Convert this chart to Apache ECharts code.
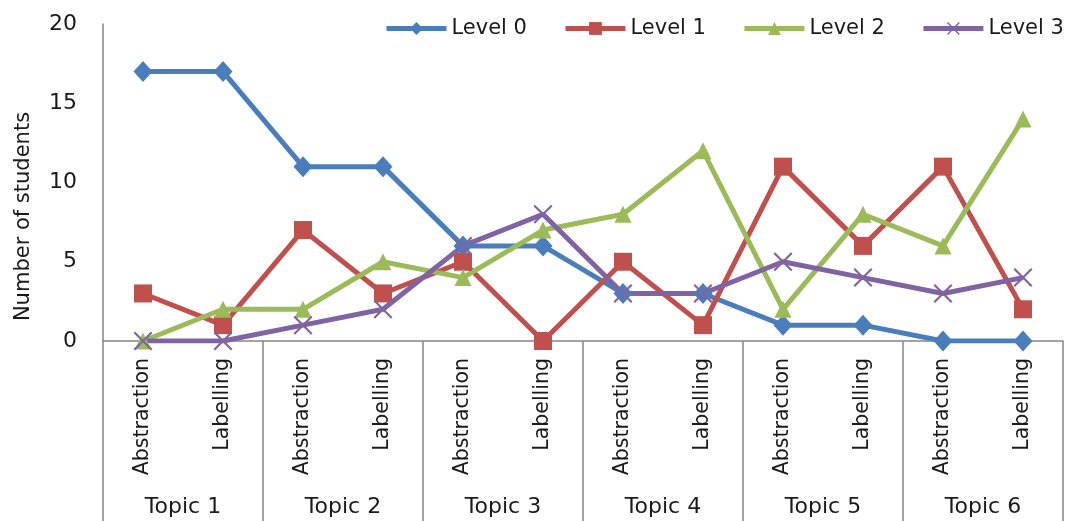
<!DOCTYPE html>
<html>
<head>
<meta charset="utf-8">
<script src="https://cdn.jsdelivr.net/npm/echarts@6/dist/echarts.min.js"></script>
<style>
  html, body { margin: 0; padding: 0; background: #ffffff; }
  #chart { width: 1068px; height: 521px; }
</style>
</head>
<body>
<div id="chart"></div>
<script>
// Tasks within each topic, and the topics themselves
const tasks = ['Abstraction', 'Labelling', 'Abstraction', 'Labelling', 'Abstraction', 'Labelling',
               'Abstraction', 'Labelling', 'Abstraction', 'Labelling', 'Abstraction', 'Labelling'];
const topics = ['Topic 1', 'Topic 2', 'Topic 3', 'Topic 4', 'Topic 5', 'Topic 6'];

// Number of students at each level
const level0 = [17, 17, 11, 11, 6, 6, 3, 3, 1, 1, 0, 0];
const level1 = [3, 1, 7, 3, 5, 0, 5, 1, 11, 6, 11, 2];
const level2 = [0, 2, 2, 5, 4, 7, 8, 12, 2, 8, 6, 14];
const level3 = [0, 0, 1, 2, 6, 8, 3, 3, 5, 4, 3, 4];

const yTicks = [0, 5, 10, 15, 20];

const FONT = 'DejaVu Sans';
const TEXT = '#1a1a1a';
const AXIS = '#868686';

// thin "x" marker
const crossPath = 'path://M0,0.8 L0.8,0 L5,4.2 L9.2,0 L10,0.8 L5.8,5 L10,9.2 L9.2,10 L5,5.8 L0.8,10 L0,9.2 L4.2,5 Z';

function lineSeries(name, data, color, symbol, size) {
  return {
    name: name,
    type: 'line',
    xAxisIndex: 0,
    data: data,
    symbol: symbol,
    symbolSize: size,
    showSymbol: true,
    lineStyle: { color: color, width: 5 },
    itemStyle: { color: color },
    emphasis: { disabled: true }
  };
}

const chart = echarts.init(document.getElementById('chart'));
chart.setOption({
  animation: false,
  backgroundColor: '#ffffff',
  grid: { left: 103, right: 5, top: 24, bottom: 180, containLabel: false, outerBoundsMode: 'none' },
  legend: {
    left: 384,
    top: 18,
    padding: 0,
    width: 684,
    itemWidth: 60,
    itemHeight: 16,
    itemGap: 36,
    lineStyle: { width: 5 },
    textStyle: { fontFamily: FONT, fontSize: 21, color: TEXT },
    data: ['Level 0', 'Level 1', 'Level 2', 'Level 3']
  },
  xAxis: [
    {
      type: 'category',
      data: tasks,
      boundaryGap: true,
      position: 'bottom',
      axisLine: { show: true, lineStyle: { color: AXIS, width: 1.5 } },
      axisTick: { show: false },
      axisLabel: {
        interval: 0,
        rotate: 90,
        margin: 17,
        fontFamily: FONT,
        fontSize: 20.5,
        color: TEXT
      },
      splitLine: { show: false }
    },
    {
      type: 'category',
      data: topics,
      boundaryGap: true,
      position: 'bottom',
      axisLine: { show: false },
      axisTick: { show: true, interval: 0, length: 182, lineStyle: { color: AXIS, width: 1.5 } },
      axisLabel: {
        interval: 0,
        margin: 155,
        fontFamily: FONT,
        fontSize: 22,
        color: TEXT
      },
      splitLine: { show: false }
    }
  ],
  yAxis: {
    type: 'value',
    min: yTicks[0],
    max: yTicks[yTicks.length - 1],
    interval: 5,
    name: 'Number of students',
    nameLocation: 'middle',
    nameRotate: 90,
    nameGap: 69,
    nameTextStyle: { fontFamily: FONT, fontSize: 21, color: TEXT, padding: [0, 68, 0, 0] },
    axisLine: { show: true, lineStyle: { color: AXIS, width: 1.5 } },
    axisTick: { show: false },
    axisLabel: { margin: 26, fontFamily: FONT, fontSize: 22, color: TEXT },
    splitLine: { show: false }
  },
  series: [
    lineSeries('Level 0', level0, '#4a7ebb', 'diamond', [19, 21]),
    lineSeries('Level 1', level1, '#c0504d', 'rect', 18),
    lineSeries('Level 2', level2, '#9bbb59', 'triangle', 17),
    lineSeries('Level 3', level3, '#8064a2', crossPath, 19)
  ]
});
</script>
</body>
</html>
